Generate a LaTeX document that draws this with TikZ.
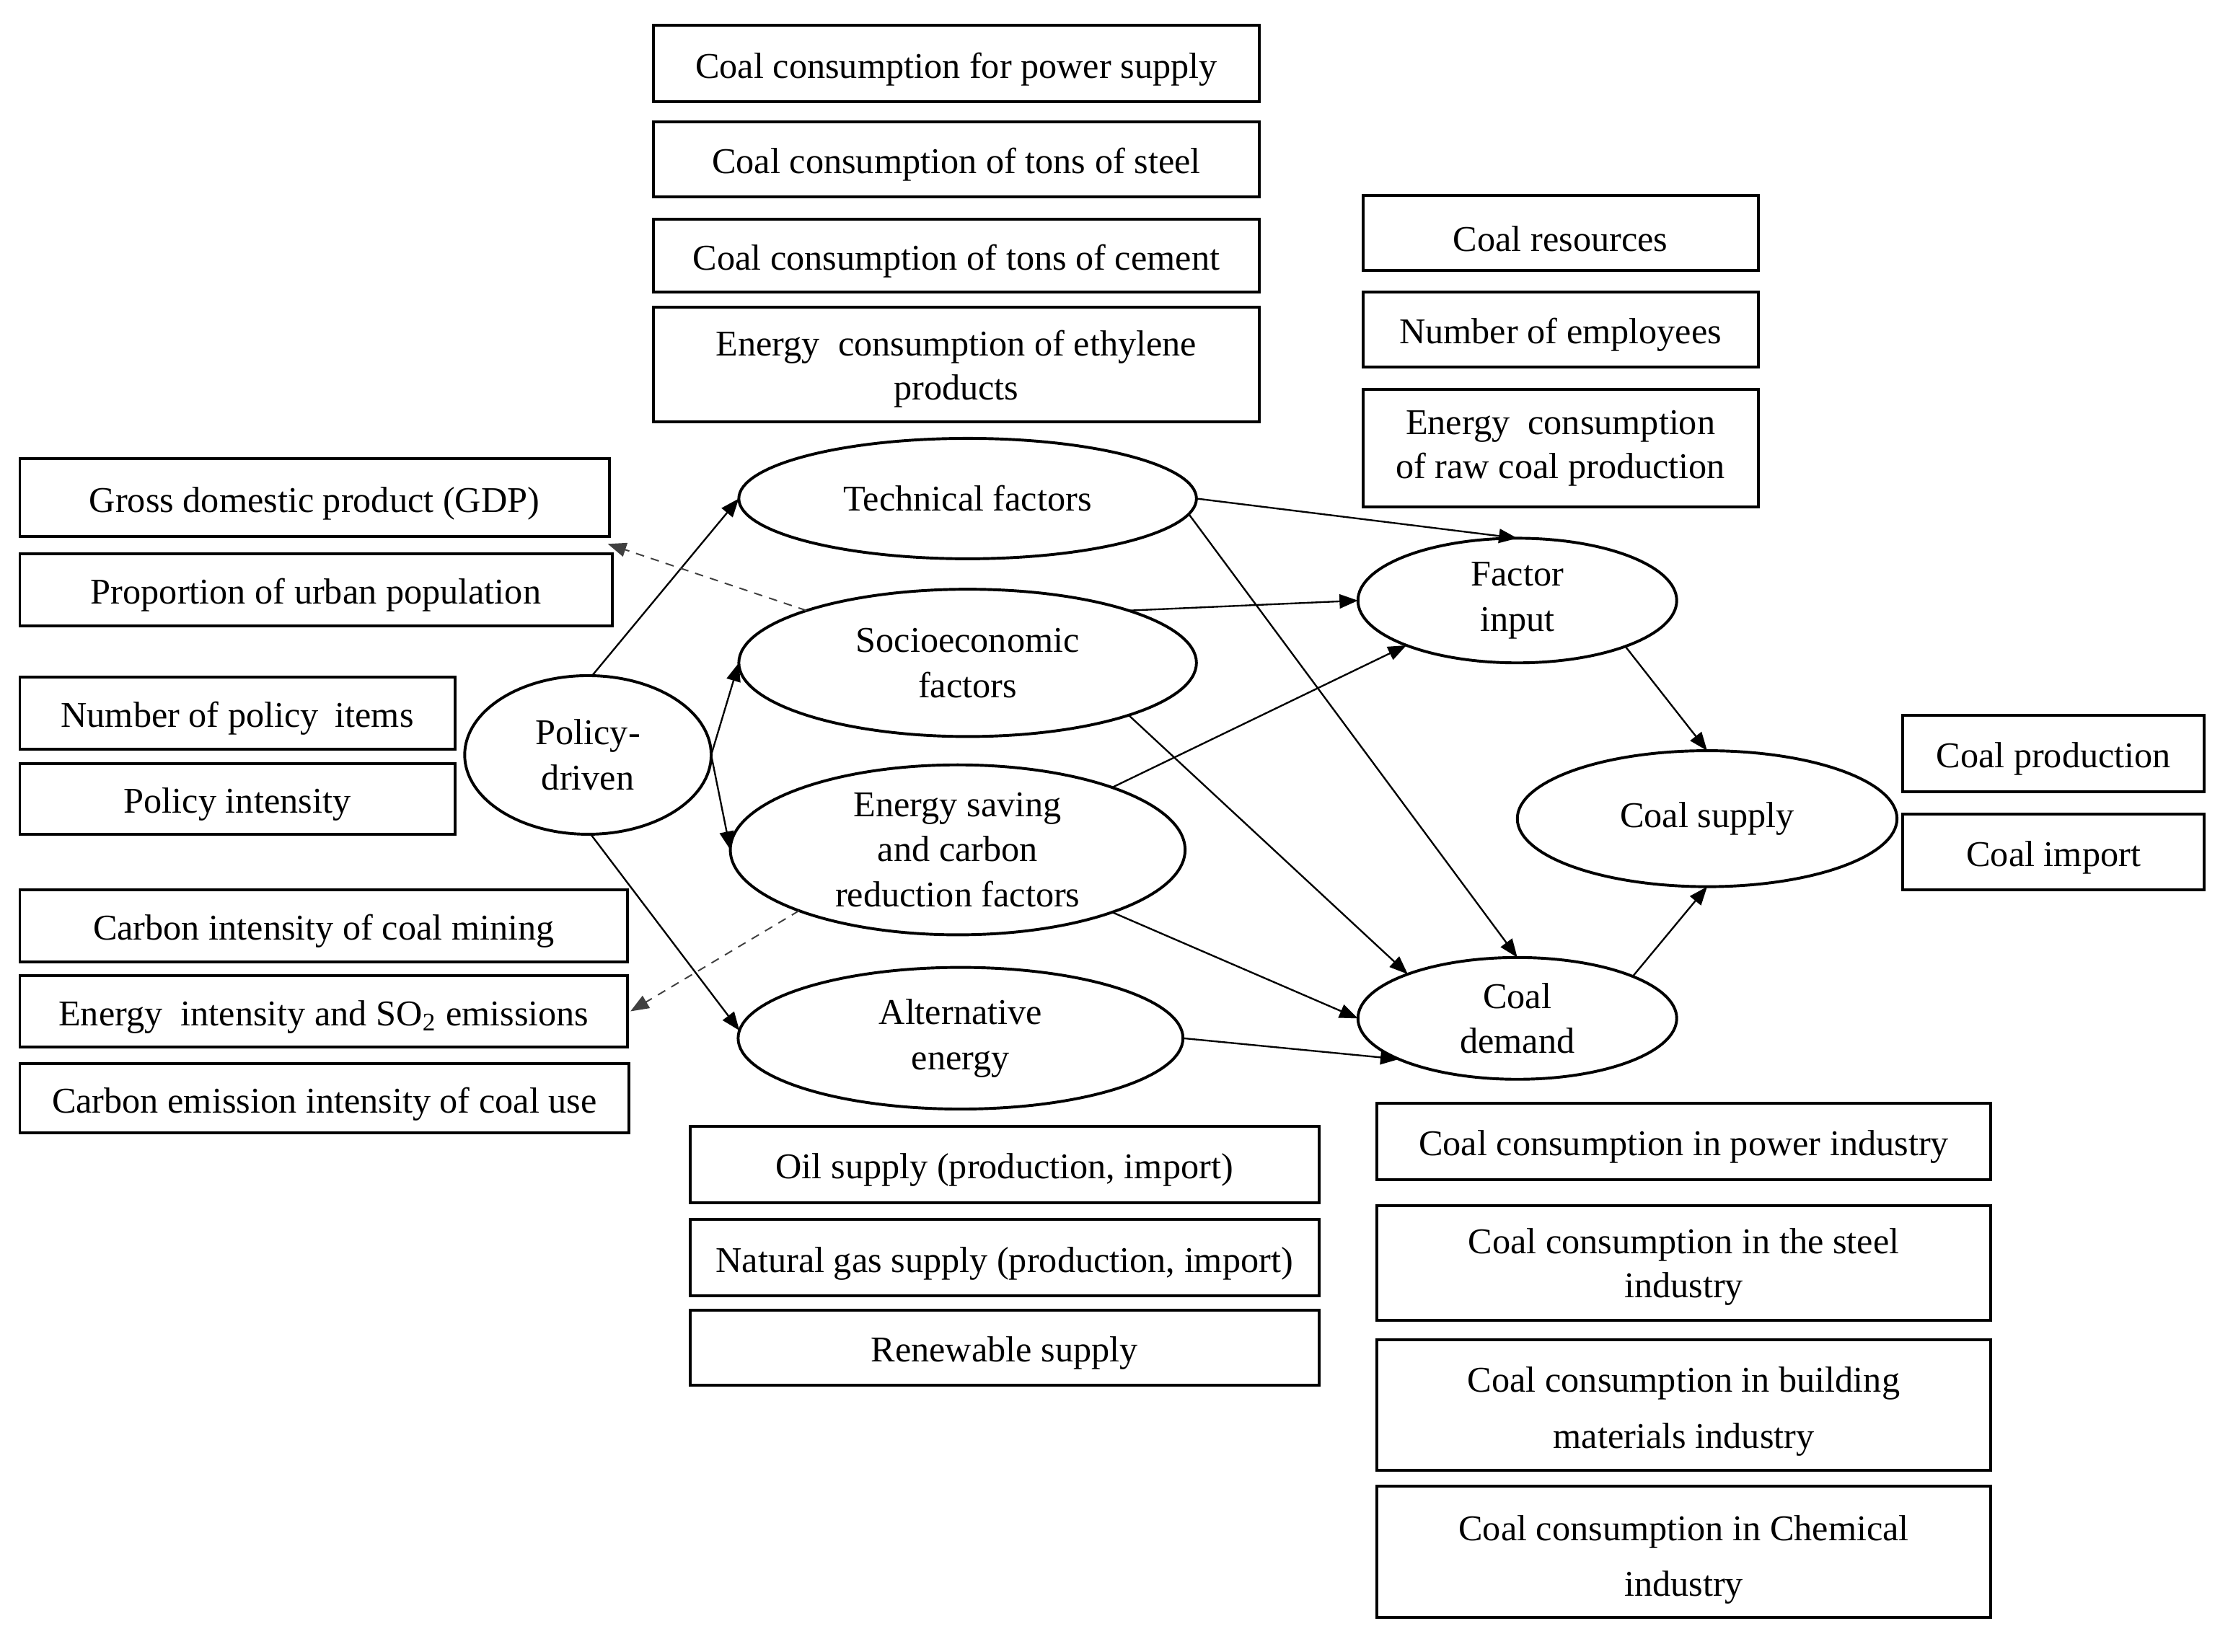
\documentclass[tikz,border=0pt]{standalone}
\usepackage{fontspec}
\setmainfont{Liberation Serif}
\usetikzlibrary{shapes.geometric,arrows.meta}
\newcommand{\upstrut}[1]{\rule{0pt}{#1}}
\begin{document}
\begin{tikzpicture}[x=0.5pt,y=-0.5pt,
  every node/.style={font=\fontsize{12.8}{15.5}\selectfont, inner sep=0pt, outer sep=0pt},
  bx/.style={draw, line width=1pt, rectangle, align=center, execute at begin node={\rule{0pt}{12.8pt}}},
  el/.style={draw, line width=1pt, ellipse, align=center, font=\fontsize{12.8}{16}\selectfont},
  arr/.style={-{Triangle[length=6.5pt,width=5pt]}, line width=0.6pt},
  darr/.style={-{Triangle[length=6.5pt,width=5pt]}, line width=0.5pt, dash pattern=on 3pt off 2.5pt, black!75}
]
\useasboundingbox (0,0) rectangle (1567,1166);
% top centre boxes
\node[bx, minimum width=214pt, minimum height=27pt] (b1) at (675,45) {Coal consumption for power supply};
\node[bx, minimum width=214pt, minimum height=26.5pt] (b2) at (675,112.5) {Coal consumption of tons of steel};
\node[bx, minimum width=214pt, minimum height=25.5pt] (b3) at (675,180.5) {Coal consumption of tons of cement};
\node[bx, minimum width=214pt, minimum height=40.5pt] (b4) at (675,257.5) {\upstrut{11.8pt}Energy\hspace{0.25em} consumption of ethylene\\products};
% right top boxes
\node[bx, minimum width=139.5pt, minimum height=26.5pt] (b5) at (1101.5,164.5) {Coal resources};
\node[bx, minimum width=139.5pt, minimum height=26.5pt] (b6) at (1101.5,232.5) {Number of employees};
\node[bx, minimum width=139.5pt, minimum height=41.5pt] (b7) at (1101.5,316.5) {Energy\hspace{0.25em} consumption\\of raw coal production};
% left boxes
\node[bx, minimum width=208pt, minimum height=27.5pt] (gdp) at (222,351.5) {Gross domestic product (GDP)};
\node[bx, minimum width=209pt, minimum height=25.5pt] (urb) at (223,416.5) {Proportion of urban population};
\node[bx, minimum width=153.5pt, minimum height=25.5pt] (pit) at (167.5,503.5) {Number of policy\hspace{0.2em} items};
\node[bx, minimum width=153.5pt, minimum height=25pt] (pin) at (167.5,564) {Policy intensity};
\node[bx, minimum width=214.5pt, minimum height=25.5pt] (cim) at (228.5,653.5) {Carbon intensity of coal mining};
\node[bx, minimum width=214.5pt, minimum height=25pt] (so2) at (228.5,714) {Energy\hspace{0.25em} intensity and SO\textsubscript{2} emissions};
\node[bx, minimum width=215pt, minimum height=24.5pt] (ceu) at (229,775.5) {Carbon emission intensity of coal use};
% bottom centre boxes
\node[bx, minimum width=222pt, minimum height=27pt] (oil) at (709,822) {Oil supply (production, import)};
\node[bx, minimum width=222pt, minimum height=27pt] (gas) at (709,888) {Natural gas supply (production, import)};
\node[bx, minimum width=222pt, minimum height=26.5pt] (ren) at (709,951.5) {Renewable supply};
% bottom right boxes
\node[bx, minimum width=216.5pt, minimum height=27pt] (cpi) at (1188.5,806) {Coal consumption in power industry};
\node[bx, minimum width=216.5pt, minimum height=40.5pt] (csi) at (1188.5,891.5) {\upstrut{11.8pt}Coal consumption in the steel\\industry};
\node[bx, minimum width=216.5pt, minimum height=46pt, font=\fontsize{12.8}{20}\selectfont] (cbi) at (1188.5,992) {\upstrut{13.5pt}Coal consumption in building\\materials industry};
\node[bx, minimum width=216.5pt, minimum height=46.5pt, font=\fontsize{12.8}{19.5}\selectfont] (cci) at (1188.5,1095.5) {\upstrut{14.5pt}Coal consumption in Chemical\\industry};
% right boxes
\node[bx, minimum width=106.5pt, minimum height=27pt] (cpr) at (1449.5,532) {Coal production};
\node[bx, minimum width=106.5pt, minimum height=26.5pt] (cim2) at (1449.5,601.5) {Coal import};
% ellipses
\node[el, minimum width=161.5pt, minimum height=42.5pt] (tech) at (683,352) {Technical factors};
\node[el, minimum width=161.5pt, minimum height=52pt] (socio) at (683,468) {Socioeconomic\\factors};
\node[el, minimum width=160.5pt, minimum height=60pt] (energy) at (676,600) {Energy saving\\and carbon\\reduction factors};
\node[el, minimum width=157pt, minimum height=50pt] (alt) at (678,733) {Alternative\\energy};
\node[el, minimum width=87pt, minimum height=56pt] (policy) at (415,533) {Policy-\\driven};
\node[el, minimum width=112.5pt, minimum height=44pt] (factor) at (1071,424) {Factor\\input};
\node[el, minimum width=112.5pt, minimum height=43pt] (demand) at (1071,719) {Coal\\demand};
\node[el, minimum width=134pt, minimum height=48pt] (supply) at (1205,578) {Coal supply};
% arrows
\draw[arr] (policy.87) -- (tech.west);
\draw[arr] (policy.east) -- (socio.west);
\draw[arr] (policy.east) -- (energy.west);
\draw[arr] (policy.-88) -- (alt.178);
\draw[darr] (socio.162) -- ([xshift=-0.5pt,yshift=-2.5pt]gdp.south east);
\draw[darr] (energy.201) -- ([xshift=1pt]so2.east);
\draw[arr] (tech.east) -- (factor.north);
\draw[arr] (tech.-4) -- (demand.north);
\draw[arr] (socio.18) -- (factor.west);
\draw[arr] (socio.-18.6) -- (demand.158);
\draw[arr] (energy.22) -- (factor.202.5);
\draw[arr] (energy.-22) -- (demand.west);
\draw[arr] (alt.east) -- (demand.199);
\draw[arr] (factor.-23) -- (supply.north);
\draw[arr] (demand.20) -- (supply.south);
\end{tikzpicture}
\end{document}
